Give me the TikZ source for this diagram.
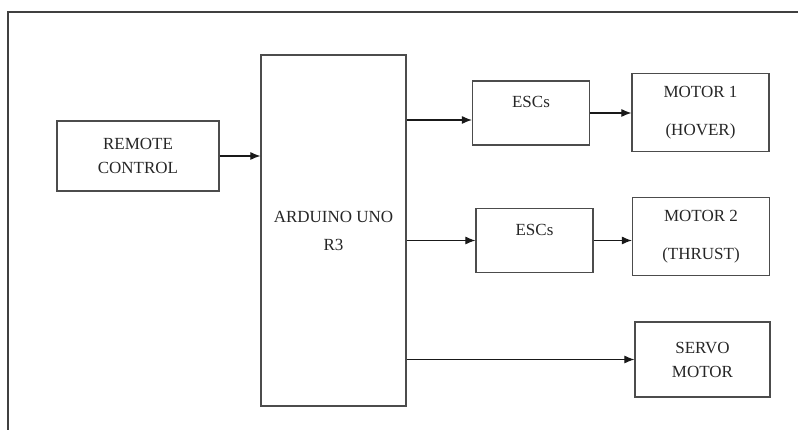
\documentclass[tikz,border=0pt]{standalone}
\usepackage{fontspec}
\setmainfont{Liberation Serif}
\newfontfamily\blkfont{Liberation Serif}
\usetikzlibrary{positioning, arrows.meta}

\begin{document}
\begin{tikzpicture}[
    x=1pt, y=-1pt,
    blk/.style={draw=black!70, line width=1.2pt, align=center, inner sep=0pt,
                text=black!85, font=\blkfont\fontsize{17}{24}\selectfont},
    esc/.style={blk, minimum width=117pt, minimum height=64pt, text depth=22pt},
    mot/.style={blk, minimum width=137pt, minimum height=78pt,
                font=\blkfont\fontsize{17}{38.5}\selectfont},
    arr/.style={-{Latex[length=10pt, width=8pt]}, line width=1.1pt, black!90}
  ]
    \useasboundingbox (0,0) rectangle (798,430);
    % page frame
    \draw[black!75, line width=1.1pt] (8,430) -- (8,12) -- (798,12);
    % blocks
    \node[blk, minimum width=162pt, minimum height=70pt] (remote) at (138,156) {REMOTE\\CONTROL};
    \node[blk, minimum width=145pt, minimum height=351pt, text height=41pt,
          font=\blkfont\fontsize{17}{28}\selectfont] (ard) at (333.5,230.5) {ARDUINO UNO\\R3};
    \node[esc] (esc1) at (531,113)   {ESCs};
    \node[esc] (esc2) at (534.5,240.5) {ESCs};
    \node[mot] (mot1) at (700.5,112.5) {MOTOR 1\\(HOVER)};
    \node[mot] (mot2) at (701,236.5)   {MOTOR 2\\(THRUST)};
    \node[blk, minimum width=135pt, minimum height=75pt] (servo) at (702.5,359.5) {SERVO\\MOTOR};
    % connections
    \coordinate (in1) at ([yshift=-7pt]esc1.west);
    \draw[arr] (remote.east) -- (remote.east -| ard.west);
    \draw[arr] (ard.east |- in1) -- (in1);
    \draw[arr] (ard.east |- esc2.west) -- (esc2.west);
    \draw[arr] (ard.east |- servo.west) -- (servo.west);
    \draw[arr] (esc1.east) -- (esc1.east -| mot1.west);
    \draw[arr] (esc2.east) -- (esc2.east -| mot2.west);
\end{tikzpicture}
\end{document}
